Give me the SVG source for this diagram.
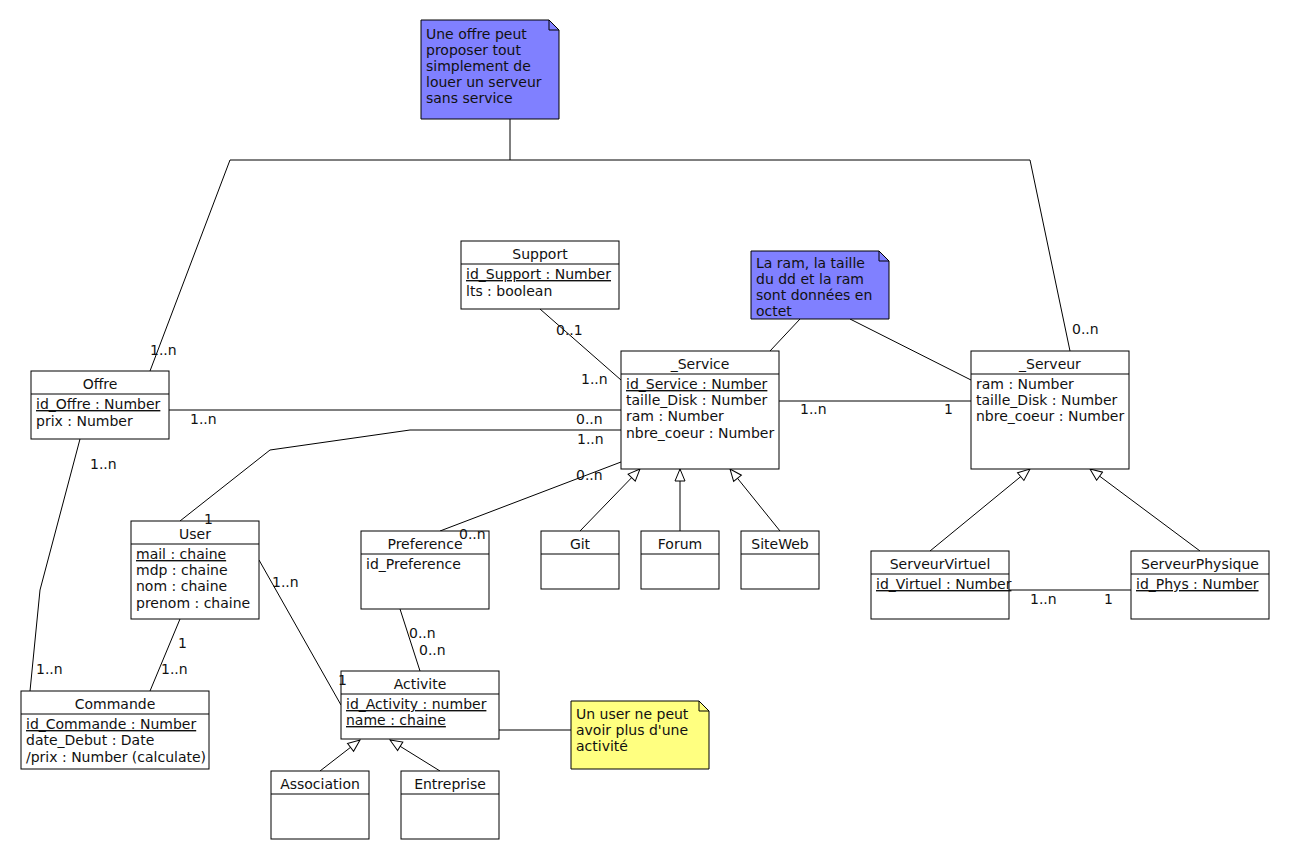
<svg xmlns="http://www.w3.org/2000/svg" width="1290" height="860" viewBox="0 0 1290 860">
<style>
text{font-family:"DejaVu Sans","Liberation Sans",sans-serif;font-size:14px;fill:#111}
.t{text-anchor:middle}
.u{text-decoration:underline}
.box{fill:#fff;stroke:#000;stroke-width:1}
.note{fill:#8080ff;stroke:#000;stroke-width:1}
.ynote{fill:#ffff80;stroke:#000;stroke-width:1}
.c line,.c polyline,.c path{fill:none;stroke:#000;stroke-width:1}
.gen{marker-end:url(#tri)}
</style>
<defs>
<marker id="tri" markerUnits="userSpaceOnUse" markerWidth="14" markerHeight="12" refX="13" refY="6" orient="auto">
<path d="M1,1 L13,6 L1,11 Z" fill="#fff" stroke="#000" stroke-width="1"/>
</marker>
</defs>
<rect width="1290" height="860" fill="#fff"/>

<g class="c" id="connectors">
<polyline points="510,119 510,160"/>
<polyline points="150,371 230,160 1030,160 1070,351"/>
<line x1="800" y1="319" x2="770" y2="351"/>
<line x1="850" y1="319" x2="971" y2="380"/>
<line x1="540" y1="309" x2="621" y2="380"/>
<line x1="169" y1="410" x2="621" y2="410"/>
<polyline points="180,521 270,450 410,430 621,430"/>
<line x1="440" y1="531" x2="621" y2="462"/>
<line x1="779" y1="401" x2="971" y2="401"/>
<line class="gen" x1="580" y1="531" x2="640" y2="469"/>
<line class="gen" x1="680" y1="531" x2="680" y2="469"/>
<line class="gen" x1="780" y1="531" x2="730" y2="469"/>
<line class="gen" x1="930" y1="551" x2="1030" y2="469"/>
<line class="gen" x1="1200" y1="551" x2="1090" y2="469"/>
<line x1="1009" y1="590" x2="1131" y2="590"/>
<polyline points="80,439 40,590 30,691"/>
<line x1="180" y1="619" x2="150" y2="691"/>
<line x1="259" y1="560" x2="341" y2="705"/>
<line x1="400" y1="609" x2="420" y2="671"/>
<line class="gen" x1="320" y1="771" x2="360" y2="740"/>
<line class="gen" x1="440" y1="771" x2="390" y2="740"/>
<line x1="499" y1="730" x2="571" y2="730"/>
</g>

<g id="note-offre">
<path class="note" d="M421,20 H549 L559,30 V119 H421 Z"/>
<path d="M549,20 V30 H559" fill="none" stroke="#000"/>
<text x="426" y="39">Une offre peut</text>
<text x="426" y="55">proposer tout</text>
<text x="426" y="71">simplement de</text>
<text x="426" y="87">louer un serveur</text>
<text x="426" y="103">sans service</text>
</g>

<g id="note-ram">
<path class="note" d="M751,251 H879 L889,261 V319 H751 Z"/>
<path d="M879,251 V261 H889" fill="none" stroke="#000"/>
<text x="756" y="268">La ram, la taille</text>
<text x="756" y="284">du dd et la ram</text>
<text x="756" y="300">sont données en</text>
<text x="756" y="316">octet</text>
</g>

<g id="note-activite">
<path class="ynote" d="M571,701 H699 L709,711 V769 H571 Z"/>
<path d="M699,701 V711 H709" fill="none" stroke="#000"/>
<text x="576" y="719">Un user ne peut</text>
<text x="576" y="735">avoir plus d'une</text>
<text x="576" y="751">activité</text>
</g>

<g id="Support">
<rect class="box" x="461" y="241" width="158" height="68"/>
<line x1="461" y1="264" x2="619" y2="264" stroke="#000"/>
<text class="t" x="540" y="259">Support</text>
<text class="u" x="466" y="279">id_Support : Number</text>
<text x="466" y="296">lts : boolean</text>
</g>

<g id="Service">
<rect class="box" x="621" y="351" width="158" height="118"/>
<line x1="621" y1="374" x2="779" y2="374" stroke="#000"/>
<text class="t" x="700" y="369">_Service</text>
<text class="u" x="626" y="389">id_Service : Number</text>
<text x="626" y="405">taille_Disk : Number</text>
<text x="626" y="421">ram : Number</text>
<text x="626" y="438">nbre_coeur : Number</text>
</g>

<g id="Serveur">
<rect class="box" x="971" y="351" width="158" height="118"/>
<line x1="971" y1="374" x2="1129" y2="374" stroke="#000"/>
<text class="t" x="1050" y="369">_Serveur</text>
<text x="976" y="389">ram : Number</text>
<text x="976" y="405">taille_Disk : Number</text>
<text x="976" y="421">nbre_coeur : Number</text>
</g>

<g id="Offre">
<rect class="box" x="31" y="371" width="138" height="68"/>
<line x1="31" y1="394" x2="169" y2="394" stroke="#000"/>
<text class="t" x="100" y="389">Offre</text>
<text class="u" x="36" y="409">id_Offre : Number</text>
<text x="36" y="426">prix : Number</text>
</g>

<g id="User">
<rect class="box" x="131" y="521" width="128" height="98"/>
<line x1="131" y1="544" x2="259" y2="544" stroke="#000"/>
<text class="t" x="195" y="539">User</text>
<text class="u" x="136" y="559">mail : chaine</text>
<text x="136" y="575">mdp : chaine</text>
<text x="136" y="591">nom : chaine</text>
<text x="136" y="608">prenom : chaine</text>
</g>

<g id="Commande">
<rect class="box" x="21" y="691" width="188" height="78"/>
<line x1="21" y1="714" x2="209" y2="714" stroke="#000"/>
<text class="t" x="115" y="709">Commande</text>
<text class="u" x="26" y="729">id_Commande : Number</text>
<text x="26" y="745">date_Debut : Date</text>
<text x="26" y="762">/prix : Number (calculate)</text>
</g>

<g id="Preference">
<rect class="box" x="361" y="531" width="128" height="78"/>
<line x1="361" y1="554" x2="489" y2="554" stroke="#000"/>
<text class="t" x="425" y="549">Preference</text>
<text x="366" y="569">id_Preference</text>
</g>

<g id="Git">
<rect class="box" x="541" y="531" width="78" height="58"/>
<line x1="541" y1="554" x2="619" y2="554" stroke="#000"/>
<text class="t" x="580" y="549">Git</text>
</g>

<g id="Forum">
<rect class="box" x="641" y="531" width="78" height="58"/>
<line x1="641" y1="554" x2="719" y2="554" stroke="#000"/>
<text class="t" x="680" y="549">Forum</text>
</g>

<g id="SiteWeb">
<rect class="box" x="741" y="531" width="78" height="58"/>
<line x1="741" y1="554" x2="819" y2="554" stroke="#000"/>
<text class="t" x="780" y="549">SiteWeb</text>
</g>

<g id="Activite">
<rect class="box" x="341" y="671" width="158" height="68"/>
<line x1="341" y1="694" x2="499" y2="694" stroke="#000"/>
<text class="t" x="420" y="689">Activite</text>
<text class="u" x="346" y="709">id_Activity : number</text>
<text class="u" x="346" y="725">name : chaine</text>
</g>

<g id="Association">
<rect class="box" x="271" y="771" width="98" height="68"/>
<line x1="271" y1="794" x2="369" y2="794" stroke="#000"/>
<text class="t" x="320" y="789">Association</text>
</g>

<g id="Entreprise">
<rect class="box" x="401" y="771" width="98" height="68"/>
<line x1="401" y1="794" x2="499" y2="794" stroke="#000"/>
<text class="t" x="450" y="789">Entreprise</text>
</g>

<g id="ServeurVirtuel">
<rect class="box" x="871" y="551" width="138" height="68"/>
<line x1="871" y1="574" x2="1009" y2="574" stroke="#000"/>
<text class="t" x="940" y="569">ServeurVirtuel</text>
<text class="u" x="876" y="589">id_Virtuel : Number</text>
</g>

<g id="ServeurPhysique">
<rect class="box" x="1131" y="551" width="138" height="68"/>
<line x1="1131" y1="574" x2="1269" y2="574" stroke="#000"/>
<text class="t" x="1200" y="569">ServeurPhysique</text>
<text class="u" x="1136" y="589">id_Phys : Number</text>
</g>

<g id="labels">
<text x="150" y="355">1..n</text>
<text x="1072" y="334">0..n</text>
<text x="556" y="335">0..1</text>
<text x="581" y="384">1..n</text>
<text x="190" y="424">1..n</text>
<text x="576" y="424">0..n</text>
<text x="577" y="444">1..n</text>
<text x="204" y="524">1</text>
<text x="576" y="480">0..n</text>
<text x="459" y="539">0..n</text>
<text x="800" y="414">1..n</text>
<text x="944" y="414">1</text>
<text x="1030" y="604">1..n</text>
<text x="1104" y="604">1</text>
<text x="90" y="469">1..n</text>
<text x="36" y="674">1..n</text>
<text x="178" y="648">1</text>
<text x="161" y="674">1..n</text>
<text x="272" y="587">1..n</text>
<text x="338" y="685">1</text>
<text x="409" y="638">0..n</text>
<text x="419" y="655">0..n</text>
</g>
</svg>
